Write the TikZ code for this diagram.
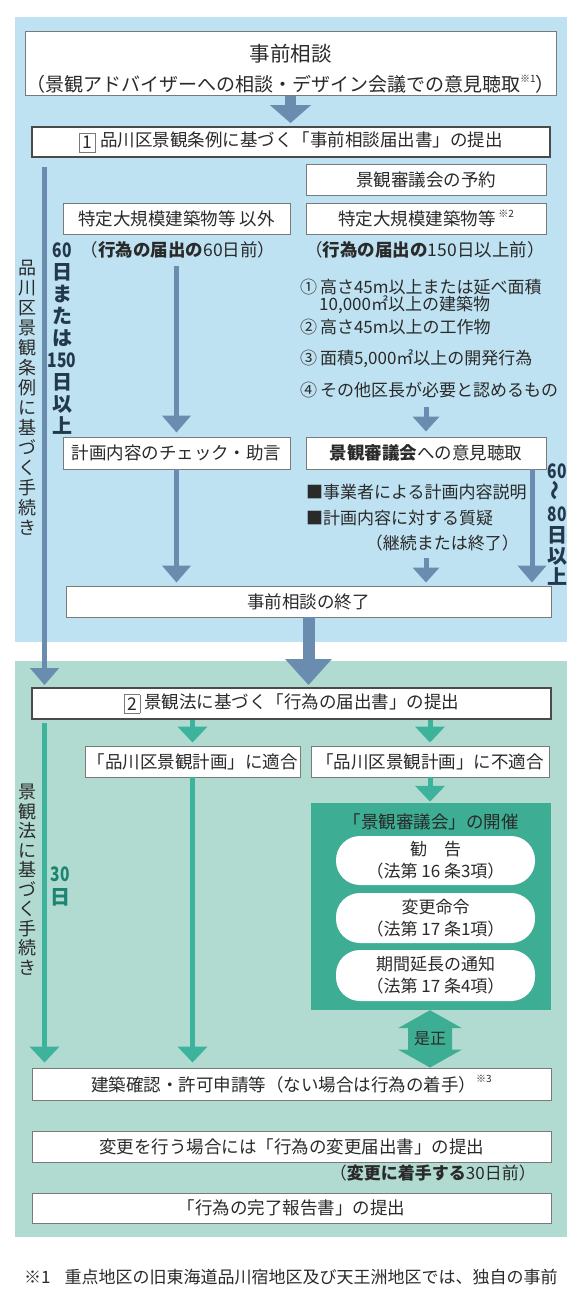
\documentclass[tikz,border=0pt]{standalone}
\usepackage{fontspec}
\usepackage{graphicx}
\setmainfont{Noto Sans CJK JP}
\usetikzlibrary{arrows.meta,calc}
\newcommand\setfs[1]{\fontsize{#1}{#1}\selectfont}
\newcommand\notemark[1]{\raisebox{0.5em}{\fontsize{10}{10}\selectfont #1}}
\newcommand\numbox[1]{\raisebox{-2pt}{\setlength{\fboxsep}{1pt}\setlength{\fboxrule}{0.8pt}\fcolorbox{boxline}{white}{\makebox[13pt]{\rule[-2pt]{0pt}{16pt}#1}}}}
\newcommand\narrow[1]{\scalebox{0.78}[1]{#1}}
\definecolor{panelblue}{HTML}{BEE2F1}
\definecolor{panelgreen}{HTML}{B1DBD1}
\definecolor{arrblue}{HTML}{6A8CAE}
\definecolor{arrgreen}{HTML}{3DB39B}
\definecolor{councilgreen}{HTML}{3DAD94}
\definecolor{darkteal}{HTML}{1B8571}
\definecolor{vnavy}{HTML}{22384E}
\definecolor{boxline}{HTML}{7A7A7A}
\definecolor{boxdark}{HTML}{4A4A4A}
\definecolor{txt}{HTML}{2A2A2A}
\tikzset{
  every node/.style={inner sep=0pt, text=txt},
  box/.style={draw=boxline, line width=0.9pt, fill=white, font=\setfs{17.5}},
  thickbox/.style={box, draw=boxdark, line width=1.8pt},
  plain/.style={font=\setfs{17.5}},
  listitem/.style={font=\setfs{17}, anchor=west},
  pill/.style={fill=white, rounded corners=24pt, align=center, font=\fontsize{17}{22}\selectfont},
  bluearr/.style={draw=arrblue, line width=5pt, -{Triangle[width=28pt,length=17pt]}},
  smallblue/.style={draw=arrblue, line width=5pt, -{Triangle[width=26pt,length=15pt]}},
  bigblue/.style={draw=arrblue, line width=12pt, -{Triangle[width=45pt,length=26pt]}},
  topblue/.style={draw=arrblue, line width=11pt, -{Triangle[width=40pt,length=18pt]}},
  greenarr/.style={draw=arrgreen, line width=5pt, -{Triangle[width=29pt,length=16pt]}},
  vtext/.style={align=center, font=\fontsize{18}{20}\selectfont},
}
\begin{document}
\begin{tikzpicture}[x=1pt,y=-1pt]
\useasboundingbox (0,0) rectangle (582,1298);
\fill[white] (0,0) rectangle (582,1298);
\fill[panelblue] (15,17) rectangle (567,642);
\fill[panelgreen] (15,661) rectangle (567,1237);

% ---------- upper part ----------
\node[box, minimum width=531pt, minimum height=64pt] (soudan) at (290.5,63.5) {};
\node[font=\setfs{20.5}] (soudanT) at (290.5,54) {事前相談};
\node[font=\setfs{19}] (soudanS) at (290.5,84) {（景観アドバイザーへの相談・デザイン会議での意見聴取\notemark{※1}）};

\node[thickbox, minimum width=518pt, minimum height=30pt] (todoke1) at (291,142) {\numbox{1} 品川区景観条例に基づく「事前相談届出書」の提出};

\node[box, minimum width=240pt, minimum height=31pt] (yoyaku) at (426,179.5) {景観審議会の予約};
\node[box, minimum width=227pt, minimum height=31pt] (igai) at (176.5,218.5) {特定大規模建築物等 以外};
\node[box, minimum width=240pt, minimum height=31pt] (tokutei) at (426,218.5) {特定大規模建築物等\,\notemark{※2}};

\node[plain] (t60) at (178,250) {（\textbf{行為の届出の}60日前）};
\node[plain] (t150) at (425,250) {（\textbf{行為の届出の}150日以上前）};

\node[listitem] (l1) at (300,287) {①\,高さ45m以上または延べ面積};
\node[listitem] (l1b) at (319,305) {10,000㎡以上の建築物};
\node[listitem] (l2) at (300,327) {②\,高さ45m以上の工作物};
\node[listitem] (l3) at (300,359) {③\,面積5,000㎡以上の開発行為};
\node[listitem] (l4) at (300,390) {④\,その他区長が必要と認めるもの};

\node[box, minimum width=227pt, minimum height=32pt] (check) at (176.5,453) {計画内容のチェック・助言};
\node[box, minimum width=240pt, minimum height=32pt] (iken) at (426,453) {\textbf{景観審議会}への意見聴取};

\node[listitem] (b1) at (306,492) {■事業者による計画内容説明};
\node[listitem] (b2) at (306,518) {■計画内容に対する質疑};
\node[font=\setfs{17}, anchor=east] (keizoku) at (519,543) {（継続または終了）};

\node[box, minimum width=485pt, minimum height=31pt] (shuryo) at (308.5,601.5) {事前相談の終了};

\node[vtext] (vt1) at (27,397.5) {品\\川\\区\\景\\観\\条\\例\\に\\基\\づ\\く\\手\\続\\き};
\node[align=center, font=\fontsize{20}{22}\bfseries\selectfont, text=vnavy] (vd1) at (62,338.5) {\narrow{60}\\日\\ま\\た\\は\\\narrow{150}\\日\\以\\上};
\node[align=center, font=\fontsize{20}{21.2}\bfseries\selectfont, text=vnavy] (vd2) at (557,525) {\narrow{60}\\\rotatebox{90}{〜}\\\narrow{80}\\日\\以\\上};

% upper arrows
\draw[topblue, shorten >=3pt] (soudan.south) -- (soudan.south |- todoke1.north);
\coordinate (lbar) at (44.5,167);
\coordinate (mstart) at (176.5,266);
\coordinate (l4end) at (426,407);
\coordinate (rstart) at (532,469);
\coordinate (kstart) at (426,558);
\draw[bluearr, shorten >=4pt] (mstart) -- (check.north);
\draw[smallblue, shorten >=5pt] (l4end) -- (iken.north);
\draw[bluearr, shorten >=3pt] (check.south) -- (check.south |- shuryo.north);
\draw[bluearr, shorten >=3pt] (rstart) -- (rstart |- shuryo.north);
\draw[smallblue, shorten >=3pt] (kstart) -- (kstart |- shuryo.north);

% ---------- lower part ----------
\node[thickbox, minimum width=519pt, minimum height=31pt] (todoke2) at (291.5,703.5) {\numbox{2} 景観法に基づく「行為の届出書」の提出};
\draw[bluearr, shorten >=2pt] (lbar) -- (lbar |- todoke2.north);
\draw[bigblue, shorten >=2pt] (shuryo.south) -- (shuryo.south |- todoke2.north);

\node[box, minimum width=215pt, minimum height=31pt] (tekigo) at (192.5,761.5) {「品川区景観計画」に適合};
\node[box, minimum width=238pt, minimum height=31pt] (futekigo) at (430,761.5) {「品川区景観計画」に不適合};

\node[fill=councilgreen, minimum width=240pt, minimum height=207pt] (council) at (431,906.5) {};
\node[plain] (councilT) at (431,822) {「景観審議会」の開催};
\node[pill, minimum width=199pt, minimum height=49pt] (p1) at (435.5,860.5) {勧　告\\（法第 16 条3項）};
\node[pill, minimum width=199pt, minimum height=50pt] (p2) at (435.5,918) {変更命令\\（法第 17 条1項）};
\node[pill, minimum width=199pt, minimum height=51pt] (p3) at (435.5,975.5) {期間延長の通知\\（法第 17 条4項）};

\node[box, minimum width=519pt, minimum height=32pt] (kakunin) at (291.5,1084) {建築確認・許可申請等（ない場合は行為の着手）\notemark{※3}};
\node[box, minimum width=519pt, minimum height=31pt] (henko) at (291.5,1146.5) {変更を行う場合には「行為の変更届出書」の提出};
\node[font=\setfs{17}, anchor=east] (t30) at (536,1173) {（\textbf{変更に着手する}30日前）};
\node[box, minimum width=519pt, minimum height=30pt] (kanryo) at (291.5,1208) {「行為の完了報告書」の提出};

\node[vtext, font=\fontsize{18}{19.5}\selectfont] (vt2) at (27,879.5) {景\\観\\法\\に\\基\\づ\\く\\手\\続\\き};
\node[align=center, font=\fontsize{20}{23}\bfseries\selectfont, text=darkteal] (vd3) at (60,886.5) {\narrow{30}\\日};

\coordinate (gbar) at (44.5,723);
\draw[greenarr, shorten >=3pt] (todoke2.south -| tekigo.north) -- (tekigo.north);
\draw[greenarr, shorten >=3pt] (todoke2.south -| futekigo.north) -- (futekigo.north);
\draw[greenarr, shorten >=1pt] (futekigo.south) -- (futekigo.south |- council.north);
\draw[greenarr, shorten >=5pt] (tekigo.south) -- (tekigo.south |- kakunin.north);
\draw[greenarr, shorten >=5pt] (gbar) -- (gbar |- kakunin.north);

% double arrow
\coordinate (zt) at (council.south -| futekigo.south);
\coordinate (zb) at (zt |- kakunin.north);
\fill[councilgreen] (zt) -- ($(zt)+(32,18)$) -- ($(zt)+(22,18)$) -- ($(zb)+(22,-18)$) -- ($(zb)+(32,-18)$) -- (zb)
  -- ($(zb)+(-32,-18)$) -- ($(zb)+(-22,-18)$) -- ($(zt)+(-22,18)$) -- ($(zt)+(-32,18)$) -- cycle;
\node[font=\setfs{16}] (zesei) at ($(zt)!0.5!(zb)$) {是正};

% footnote
\node[font=\setfs{17}, anchor=west] (fn) at (24,1277) {※1\hspace{14pt}重点地区の旧東海道品川宿地区及び天王洲地区では、独自の事前};
\end{tikzpicture}
\end{document}
